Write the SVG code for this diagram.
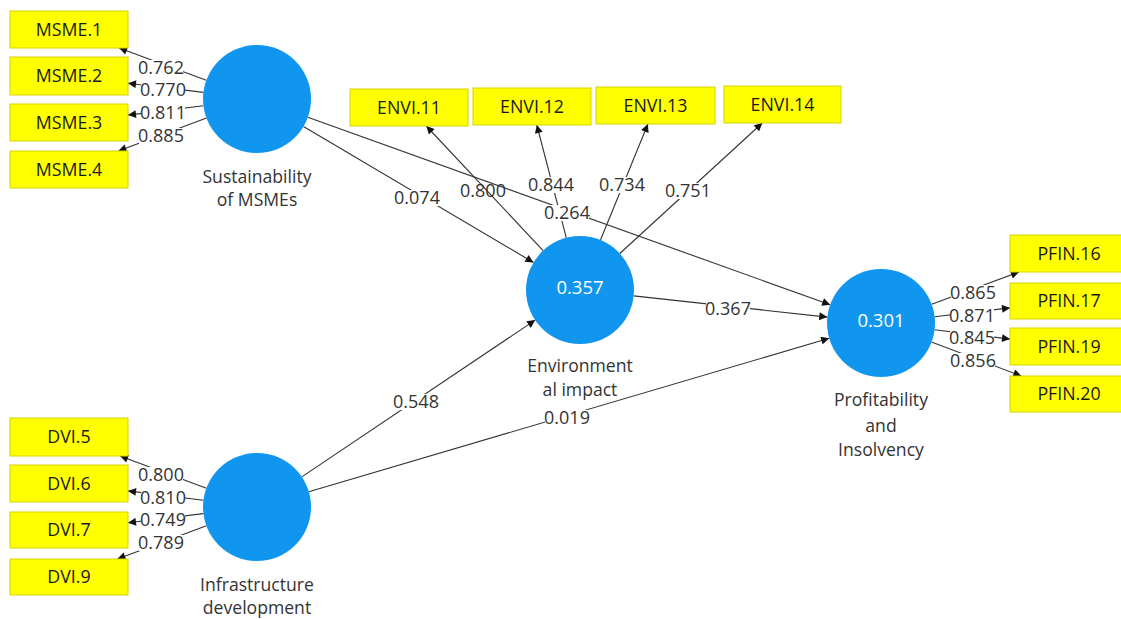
<svg xmlns="http://www.w3.org/2000/svg" width="1121" height="619" viewBox="0 0 1121 619">
<style>
.box{fill:#FFFF00;stroke:#D4D400;stroke-width:1}
.btxt{font-family:"Open Sans","Noto Sans",sans-serif;font-size:17.8px;fill:#1a1a1a;text-anchor:middle}
.lv{fill:#1196F0}
.val{font-family:"Open Sans","Noto Sans",sans-serif;font-size:18.5px;fill:#ffffff;text-anchor:middle}
.name{font-family:"Open Sans","Noto Sans",sans-serif;font-size:17.6px;fill:#333;text-anchor:middle}
.num{font-family:"Open Sans","Noto Sans",sans-serif;font-size:18px;fill:#333;text-anchor:middle}
.bg{fill:#fff}
.ln{stroke:#333;stroke-width:1.1;fill:none;marker-end:url(#ah)}
</style>
<defs>
<marker id="ah" viewBox="0 0 10 10" refX="10" refY="5" markerWidth="9" markerHeight="8" markerUnits="userSpaceOnUse" orient="auto">
<path d="M0,0 L10,5 L0,10 z" fill="#111"/>
</marker>
</defs>
<rect width="1121" height="619" fill="#fff"/>
<g id="connectors">
<line class="ln" x1="206.3" y1="80.3" x2="119.1" y2="48"/>
<line class="ln" x1="203.4" y1="92.4" x2="128" y2="83.2"/>
<line class="ln" x1="203.4" y1="105.7" x2="128" y2="115.1"/>
<line class="ln" x1="206.5" y1="118" x2="118.4" y2="151"/>
<line class="ln" x1="206.4" y1="488.2" x2="120.1" y2="456"/>
<line class="ln" x1="203.4" y1="500.3" x2="128" y2="490.9"/>
<line class="ln" x1="203.4" y1="513.6" x2="128" y2="522.8"/>
<line class="ln" x1="206.4" y1="525.8" x2="117.4" y2="559"/>
<line class="ln" x1="543.1" y1="250.6" x2="426.3" y2="126"/>
<line class="ln" x1="566.3" y1="237.8" x2="536.8" y2="125"/>
<line class="ln" x1="600.5" y1="240" x2="647.9" y2="124"/>
<line class="ln" x1="619.8" y1="253.5" x2="762.3" y2="123"/>
<line class="ln" x1="931.7" y1="304.3" x2="1019" y2="272"/>
<line class="ln" x1="934.6" y1="316.7" x2="1010" y2="307.9"/>
<line class="ln" x1="934.6" y1="329.7" x2="1010" y2="339.1"/>
<line class="ln" x1="931.5" y1="342.1" x2="1021.3" y2="376"/>
<line class="ln" x1="303.5" y1="126.5" x2="533.5" y2="262.5"/>
<line class="ln" x1="307.8" y1="117.2" x2="830.2" y2="304.8"/>
<line class="ln" x1="633.7" y1="295.9" x2="827.3" y2="317.1"/>
<line class="ln" x1="301.8" y1="476.9" x2="535.2" y2="320.1"/>
<line class="ln" x1="308.8" y1="491.7" x2="829.2" y2="338.3"/>
<rect class="bg" x="139" y="60" width="44" height="16"/>
<rect class="bg" x="141" y="82" width="44" height="16"/>
<rect class="bg" x="141" y="105" width="44" height="16"/>
<rect class="bg" x="139" y="128" width="44" height="16"/>
<rect class="bg" x="139" y="467" width="44" height="16"/>
<rect class="bg" x="141" y="490" width="44" height="16"/>
<rect class="bg" x="141" y="512" width="44" height="16"/>
<rect class="bg" x="139" y="535" width="44" height="16"/>
<rect class="bg" x="395" y="190" width="44" height="16"/>
<rect class="bg" x="529" y="177" width="44" height="16"/>
<rect class="bg" x="600" y="177" width="44" height="16"/>
<rect class="bg" x="666" y="183" width="44" height="16"/>
<rect class="bg" x="545" y="205" width="44" height="16"/>
<rect class="bg" x="706" y="301" width="44" height="16"/>
<rect class="bg" x="394" y="394" width="44" height="16"/>
<rect class="bg" x="545" y="410" width="44" height="16"/>
<rect class="bg" x="951" y="285" width="44" height="16"/>
<rect class="bg" x="950" y="308" width="44" height="16"/>
<rect class="bg" x="950" y="330" width="44" height="16"/>
<rect class="bg" x="951" y="353" width="44" height="16"/>
<text class="num" x="161" y="73.5">0.762</text>
<text class="num" x="163" y="95.5">0.770</text>
<text class="num" x="163" y="118.5">0.811</text>
<text class="num" x="161" y="141.5">0.885</text>
<text class="num" x="161" y="480.5">0.800</text>
<text class="num" x="163" y="503.5">0.810</text>
<text class="num" x="163" y="525.5">0.749</text>
<text class="num" x="161" y="548.5">0.789</text>
<text class="num" x="417" y="203.5">0.074</text>
<text class="num" x="483" y="196.5">0.800</text>
<text class="num" x="551" y="190.5">0.844</text>
<text class="num" x="622" y="190.5">0.734</text>
<text class="num" x="688" y="196.5">0.751</text>
<text class="num" x="567" y="218.5">0.264</text>
<text class="num" x="728" y="314.5">0.367</text>
<text class="num" x="416" y="407.5">0.548</text>
<text class="num" x="567" y="423.5">0.019</text>
<text class="num" x="973" y="298.5">0.865</text>
<text class="num" x="972" y="321.5">0.871</text>
<text class="num" x="972" y="343.5">0.845</text>
<text class="num" x="973" y="366.5">0.856</text>
</g>
<g id="MSME1"><rect class="box" x="10" y="11" width="118" height="37"/><text class="btxt" x="69" y="35.5">MSME.1</text></g>
<g id="MSME2"><rect class="box" x="10" y="57" width="118" height="38"/><text class="btxt" x="69" y="82">MSME.2</text></g>
<g id="MSME3"><rect class="box" x="10" y="104" width="118" height="37"/><text class="btxt" x="69" y="128.5">MSME.3</text></g>
<g id="MSME4"><rect class="box" x="10" y="151" width="118" height="37"/><text class="btxt" x="69" y="175.5">MSME.4</text></g>
<g id="DVI5"><rect class="box" x="10" y="418" width="118" height="38"/><text class="btxt" x="69" y="443">DVI.5</text></g>
<g id="DVI6"><rect class="box" x="10" y="465" width="118" height="37"/><text class="btxt" x="69" y="489.5">DVI.6</text></g>
<g id="DVI7"><rect class="box" x="10" y="512" width="118" height="36"/><text class="btxt" x="69" y="536">DVI.7</text></g>
<g id="DVI9"><rect class="box" x="10" y="559" width="118" height="36"/><text class="btxt" x="69" y="583">DVI.9</text></g>
<g id="ENVI11"><rect class="box" x="350" y="89" width="118" height="37"/><text class="btxt" x="409" y="113.5">ENVI.11</text></g>
<g id="ENVI12"><rect class="box" x="473" y="88" width="118" height="37"/><text class="btxt" x="532" y="112.5">ENVI.12</text></g>
<g id="ENVI13"><rect class="box" x="596" y="87" width="119" height="37"/><text class="btxt" x="655.5" y="111.5">ENVI.13</text></g>
<g id="ENVI14"><rect class="box" x="724" y="86" width="117" height="37"/><text class="btxt" x="782.5" y="110.5">ENVI.14</text></g>
<g id="PFIN16"><rect class="box" x="1010" y="235" width="118" height="37"/><text class="btxt" x="1069" y="259.5">PFIN.16</text></g>
<g id="PFIN17"><rect class="box" x="1010" y="283" width="118" height="36"/><text class="btxt" x="1069" y="307">PFIN.17</text></g>
<g id="PFIN19"><rect class="box" x="1010" y="328" width="118" height="37"/><text class="btxt" x="1069" y="352.5">PFIN.19</text></g>
<g id="PFIN20"><rect class="box" x="1010" y="376" width="118" height="36"/><text class="btxt" x="1069" y="400">PFIN.20</text></g>
<g id="Sustainability"><circle class="lv" cx="257" cy="99" r="54"/><text class="name" x="257" y="183">Sustainability</text><text class="name" x="257" y="206">of MSMEs</text></g>
<g id="Infrastructure"><circle class="lv" cx="257" cy="507" r="54"/><text class="name" x="257" y="591">Infrastructure</text><text class="name" x="257" y="614">development</text></g>
<g id="Environment"><circle class="lv" cx="580" cy="290" r="54"/><text class="val" x="580" y="293.5">0.357</text><text class="name" x="580" y="372">Environment</text><text class="name" x="580" y="396">al impact</text></g>
<g id="Profitability"><circle class="lv" cx="881" cy="323" r="54"/><text class="val" x="881" y="326.5">0.301</text><text class="name" x="881" y="406">Profitability</text><text class="name" x="881" y="432">and</text><text class="name" x="881" y="456">Insolvency</text></g>
</svg>
